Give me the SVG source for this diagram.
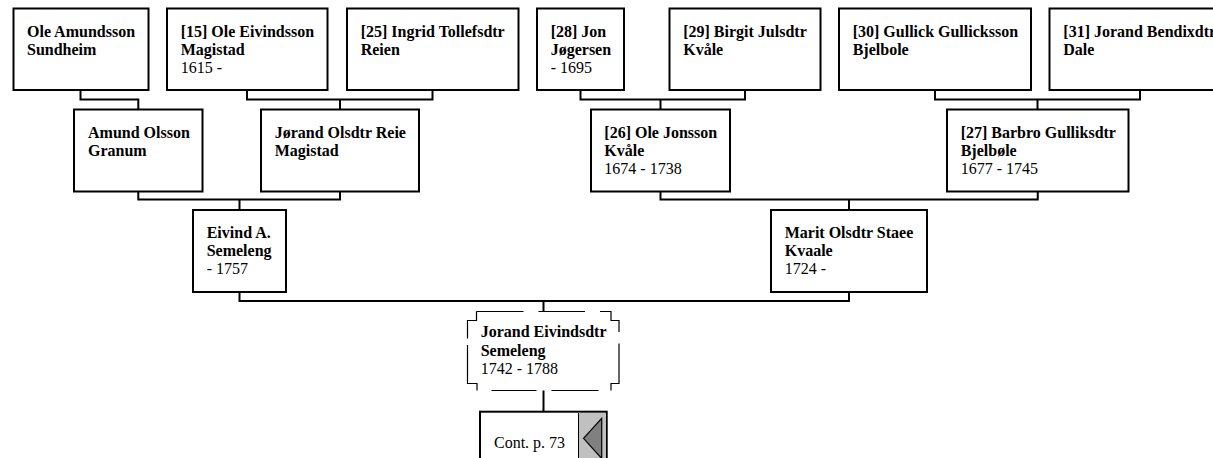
<svg xmlns="http://www.w3.org/2000/svg" width="1213" height="458" viewBox="0 0 1213 458">
<style>
.box{fill:#fff;stroke:#000;stroke-width:2}
.conn{fill:none;stroke:#000;stroke-width:2}
.dash{fill:none;stroke:#000;stroke-width:1.2}
text{font-family:"Liberation Serif","Times New Roman",serif;font-size:16px;fill:#000}
.b{font-weight:bold}
</style>
<rect width="1213" height="458" fill="#fff"/>
<g id="connectors">
<path class="conn" d="M80.5 90V99.5H138.3V109.5"/>
<path class="conn" d="M247 90V99.5H432.5V90M340 99.5V109.5"/>
<path class="conn" d="M580.5 90V99.5H745V90M660.5 99.5V109.5"/>
<path class="conn" d="M935 90V99.5H1140V90M1037.5 99.5V109.5"/>
<path class="conn" d="M138.3 191.5V199.5H340V191.5M239.5 199.5V210"/>
<path class="conn" d="M660.5 191.5V199.5H1037.75V191.5M849 199.5V210"/>
<path class="conn" d="M239.5 292V301H849V292M543.5 301V311.5"/>
<path class="conn" d="M543.5 390.5V411.7"/>
</g>
<g id="n1"><rect class="box" x="13.5" y="8.5" width="135" height="81.5"/>
<text x="27" y="36.5" class="b">Ole Amundsson</text><text x="27" y="54.5" class="b">Sundheim</text></g>
<g id="n15"><rect class="box" x="167" y="8.5" width="160.5" height="81.5"/>
<text x="180.7" y="36.5" class="b">[15] Ole Eivindsson</text><text x="180.7" y="54.5" class="b">Magistad</text><text x="180.7" y="72.5">1615 -</text></g>
<g id="n25"><rect class="box" x="347" y="8.5" width="171.5" height="81.5"/>
<text x="360.7" y="36.5" class="b">[25] Ingrid Tollefsdtr</text><text x="360.7" y="54.5" class="b">Reien</text></g>
<g id="n28"><rect class="box" x="537" y="8.5" width="87" height="81.5"/>
<text x="550.7" y="36.5" class="b">[28] Jon</text><text x="550.7" y="54.5" class="b">Jøgersen</text><text x="550.7" y="72.5">- 1695</text></g>
<g id="n29"><rect class="box" x="669.5" y="8.5" width="151" height="81.5"/>
<text x="683.2" y="36.5" class="b">[29] Birgit Julsdtr</text><text x="683.2" y="54.5" class="b">Kvåle</text></g>
<g id="n30"><rect class="box" x="839" y="8.5" width="192" height="81.5"/>
<text x="852.7" y="36.5" class="b">[30] Gullick Gullicksson</text><text x="852.7" y="54.5" class="b">Bjelbole</text></g>
<g id="n31"><rect class="box" x="1049.5" y="8.5" width="182" height="81.5"/>
<text x="1063.3" y="36.5" class="b">[31] Jorand Bendixdtr</text><text x="1063.3" y="54.5" class="b">Dale</text></g>
<g id="amund"><rect class="box" x="74" y="109.5" width="128.5" height="82"/>
<text x="88" y="137.7" class="b">Amund Olsson</text><text x="88" y="155.7" class="b">Granum</text></g>
<g id="jorand-reie"><rect class="box" x="261" y="109.5" width="158" height="82"/>
<text x="274.7" y="137.7" class="b">Jørand Olsdtr Reie</text><text x="274.7" y="155.7" class="b">Magistad</text></g>
<g id="n26"><rect class="box" x="591" y="109.5" width="139" height="82"/>
<text x="604.3" y="137.7" class="b">[26] Ole Jonsson</text><text x="604.3" y="155.7" class="b">Kvåle</text><text x="604.3" y="173.7">1674 - 1738</text></g>
<g id="n27"><rect class="box" x="947" y="109.5" width="181.5" height="82"/>
<text x="960.7" y="137.7" class="b">[27] Barbro Gulliksdtr</text><text x="960.7" y="155.7" class="b">Bjelbøle</text><text x="960.7" y="173.7">1677 - 1745</text></g>
<g id="eivind"><rect class="box" x="193" y="210" width="93" height="82"/>
<text x="206.7" y="237.7" class="b">Eivind A.</text><text x="206.7" y="255.7" class="b">Semeleng</text><text x="206.7" y="273.7">- 1757</text></g>
<g id="marit"><rect class="box" x="771" y="210" width="156" height="82"/>
<text x="784.7" y="237.7" class="b">Marit Olsdtr Staee</text><text x="784.7" y="255.7" class="b">Kvaale</text><text x="784.7" y="273.7">1724 -</text></g>
<g id="jorand">
<path class="dash" d="M476.5 311.5H523.5M538.5 311.5H585M600 311.5H611V320.5H619V332M619 343.5V383.5H611V390.5M598.5 390.5H551.5M536.5 390.5H491.5M477 390.5V383.5H467.5V345M467.5 338.5V320.5H476.5V311.5"/>
<text x="480.7" y="337.3" class="b">Jorand Eivindsdtr</text><text x="480.7" y="355.5" class="b">Semeleng</text><text x="480.7" y="373.5">1742 - 1788</text></g>
<g id="cont"><rect class="box" x="480" y="411.7" width="126.7" height="60"/>
<rect x="578.5" y="413" width="27.5" height="50" fill="#c0c0c0"/>
<line x1="578.5" y1="413" x2="578.5" y2="458" stroke="#000" stroke-width="1"/>
<polygon points="583.5,438.3 601.7,418.3 601.7,458.5" fill="#808080" stroke="#000" stroke-width="1.2"/>
<text x="494" y="448.3">Cont. p. 73</text></g>
</svg>
